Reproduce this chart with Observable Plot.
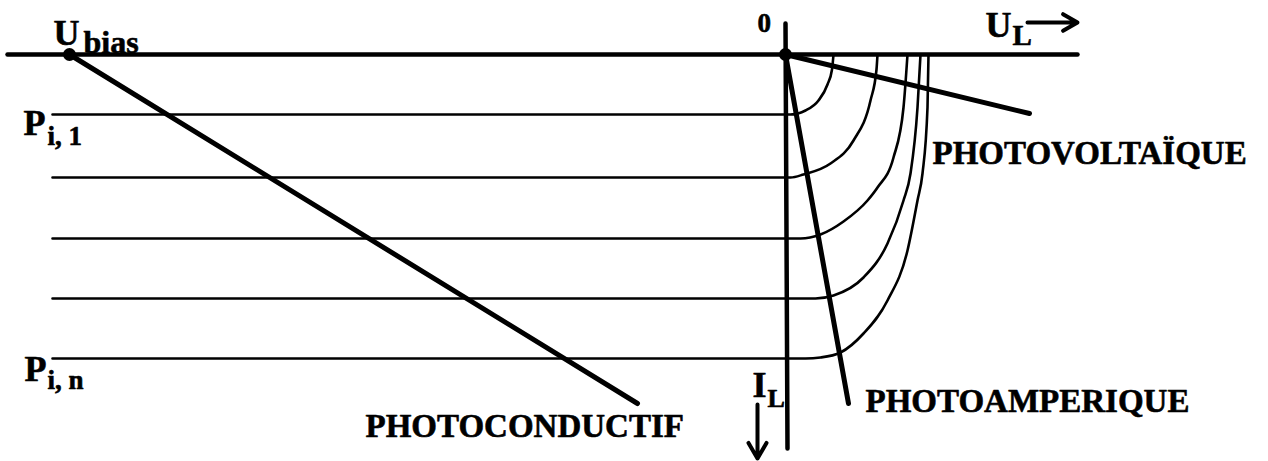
<!DOCTYPE html>
<html><head><meta charset="utf-8">
<script src="https://cdn.jsdelivr.net/npm/d3@7"></script>
<script src="https://cdn.jsdelivr.net/npm/@observablehq/plot@0.6"></script>
<style>html,body{margin:0;padding:0;background:#fff;overflow:hidden} svg{display:block}</style>
</head><body><div id="chart"></div>
<script>
// Axes extents (U_L horizontal, I_L downward)
const uAxisExtent = [[-778, 0], [292, 0]];
const iAxisExtent = [[0, -31], [2, 394]];

// I-V characteristics for illumination levels P_i,1 ... P_i,n  [U_L, I_L]
const curveP1 = [[-733,60],[5,60],[20,56],[33,46],[42,30],[46.5,15],[48,0]];
const curveP2 = [[-733,123],[5,123],[18,120],[45,109],[68,86],[85,46],[91,15],[92,0]];
const curveP3 = [[-733,184],[15,184],[35,180],[58,167],[82,146],[92,133],[108,103],[118,53],[122,0]];
const curveP4 = [[-733,244],[30,244],[48,241],[78,223],[102,189],[118,146],[125,119],[132,53],[135,0]];
const curveP5 = [[-733,304],[20,304],[35,303],[55,298],[78,279],[102,246],[122,196],[132,146],[137,119],[142,53],[143,0]];
const curves = [curveP1, curveP2, curveP3, curveP4, curveP5];

// Load lines
const photoconductif = [[-716,0],[-148,349]];
const photoamperique = [[0,0],[63,349]];
const photovoltaique = [[0,0],[244,59]];

// Operating points
const biasPoints = [[-716,0],[0,0]];

const modeLabels = ["PHOTOCONDUCTIF", "PHOTOAMPERIQUE", "PHOTOVOLTAÏQUE"];

const font = "'Liberation Serif', 'Times New Roman', serif";
const T = (x, y, text, size) => Plot.text([{x, y, text}], {
  x: "x", y: "y", text: "text", fontSize: size, fontWeight: "bold",
  fontFamily: font, textAnchor: "start", lineAnchor: "middle", fill: "black",
  stroke: "black", strokeWidth: 0.6
});

const marks = [
  Plot.line(uAxisExtent, {x: d => d[0], y: d => d[1], stroke: "black", strokeWidth: 4.5}),
  Plot.line(iAxisExtent, {x: d => d[0], y: d => d[1], stroke: "black", strokeWidth: 4.5}),
  ...curves.map(c => Plot.line(c, {x: d => d[0], y: d => d[1], stroke: "black", strokeWidth: 2.6, curve: "monotone-x"})),
  Plot.line(photoconductif, {x: d => d[0], y: d => d[1], stroke: "black", strokeWidth: 5, strokeLinecap: "round"}),
  Plot.line(photoamperique, {x: d => d[0], y: d => d[1], stroke: "black", strokeWidth: 5, strokeLinecap: "round"}),
  Plot.line(photovoltaique, {x: d => d[0], y: d => d[1], stroke: "black", strokeWidth: 5, strokeLinecap: "round"}),
  Plot.dot(biasPoints, {x: d => d[0], y: d => d[1], r: 6.5, fill: "black", stroke: "none"}),
  Plot.arrow([{x1: 242, y1: -32, x2: 292, y2: -32}], {x1: "x1", y1: "y1", x2: "x2", y2: "y2", stroke: "black", strokeWidth: 4, headLength: 20, headAngle: 60}),
  Plot.arrow([{x1: -28, y1: 350, x2: -28, y2: 404}], {x1: "x1", y1: "y1", x2: "x2", y2: "y2", stroke: "black", strokeWidth: 4, headLength: 20, headAngle: 60}),
  T(-732, -21.5, "U", 36),
  T(-702, -11.5, "bias", 32),
  T(-28, -31.5, "0", 27),
  T(200, -29.5, "U", 36),
  T(227, -19, "L", 29),
  T(-762, 68.5, "P", 36),
  T(-738, 82, "i, 1", 27),
  T(-761, 314.5, "P", 36),
  T(-738, 325.5, "i, n", 27),
  T(-33, 331, "I", 36),
  T(-18, 344.5, "L", 26),
  T(147, 99, modeLabels[2], 33),
  T(80, 347, modeLabels[1], 33),
  T(-420, 372, modeLabels[0], 33)
];

const chart = Plot.plot({
  width: 1268, height: 461,
  margin: 0,
  x: {domain: [-785, 483], range: [0, 1268], axis: null},
  y: {domain: [-54, 407], range: [0, 461], axis: null},
  style: {background: "white"},
  marks
});
document.getElementById("chart").append(chart);
</script>
</body></html>
